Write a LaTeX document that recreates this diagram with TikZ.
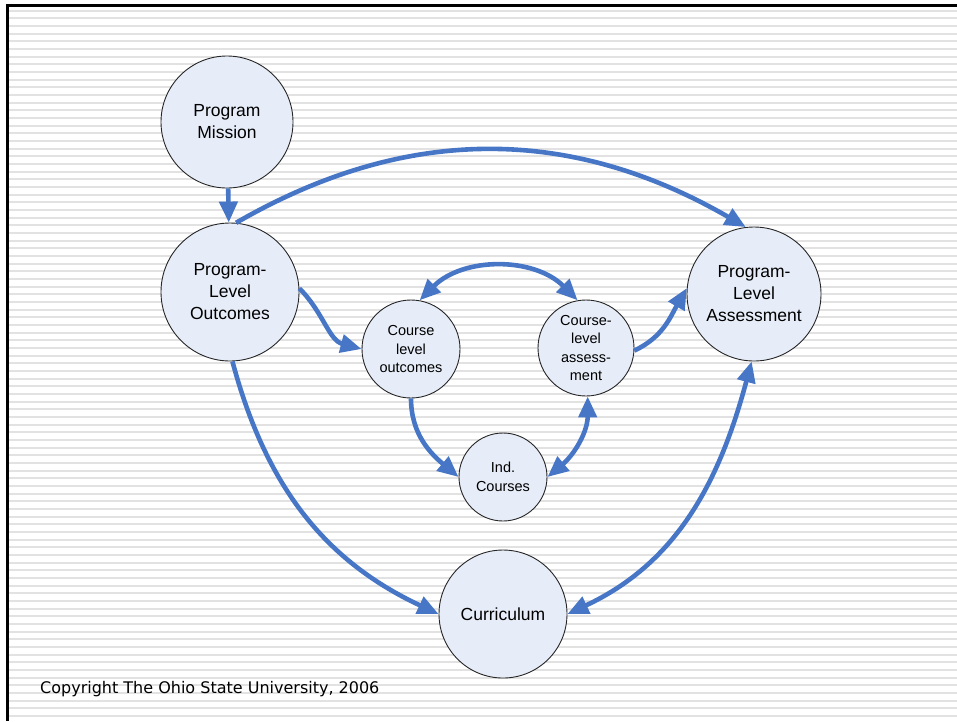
\documentclass[tikz,border=0pt]{standalone}
\usepackage{fontspec}
\setmainfont{Liberation Sans}
\newfontfamily\notefont{DejaVu Sans}
\usetikzlibrary{arrows.meta}

\definecolor{flowblue}{RGB}{70,118,197}
\definecolor{bubble}{RGB}{231,237,248}
\definecolor{stripe}{RGB}{226,226,226}

\tikzset{
    tip/.tip={Triangle[length=21pt, width=18pt]},
    bubble/.style={circle, draw=black!85, line width=0.9pt, fill=bubble,
        inner sep=0pt, align=center, font=\fontsize{17.5}{22}\selectfont},
    smallbubble/.style={bubble, font=\fontsize{14.5}{18.5}\selectfont},
    flow/.style={draw=flowblue, line width=4.6pt, -tip},
    twoway/.style={flow, tip-tip},
}

\begin{document}
\begin{tikzpicture}[x=1pt, y=1pt]
    \useasboundingbox (0,0) rectangle (957,-721);

    % ruled paper
    \foreach \k in {0,...,92}
        \fill[stripe] (8,-9.7-7.667*\k) rectangle ++(949,-2);
    \draw[line width=2.5pt] (957,-5.3) -- (7.7,-5.3) -- (7.7,-721);

    % program level
    \node[bubble, minimum size=132] (mission) at (227,-122) {Program\\Mission};
    \node[bubble, minimum size=138] (outcomes) at (230,-292) {Program-\\Level\\Outcomes};
    \node[bubble, minimum size=134] (assess) at (754,-294) {Program-\\Level\\Assessment};
    \node[bubble, minimum size=128] (curric) at (503,-614) {Curriculum};

    % course level
    \node[smallbubble, minimum size=98] (cout) at (411,-349) {Course\\level\\outcomes};
    \node[smallbubble, minimum size=96] (cass) at (586,-348) {Course-\\level\\assess-\\ment};
    \node[smallbubble, minimum size=88] (ind) at (503,-477) {Ind.\\Courses};

    \draw[flow] (mission) -- (outcomes);
    \draw[flow] (outcomes.85) to[out=30, in=150] (assess.97);
    \draw[flow] (outcomes.3) to[out=-45, in=165] (cout.180);
    \draw[twoway] (cout.80) to[out=45, in=135] (cass.100);
    \draw[flow] (cass.-3) to[out=25, in=-120] (assess.175);
    \draw[flow] (cout.-90) to[out=-90, in=140] (ind.180);
    \draw[twoway] (cass.-88) to[out=-90, in=40] (ind.0);
    \draw[flow] (outcomes.-88) to[out=-75, in=155] (curric.180);
    \draw[twoway] (assess.-92) to[out=-105, in=25] (curric.0);

    \node[anchor=base west, inner sep=0pt, font=\notefont\fontsize{16}{19}\selectfont] (note) at (40,-693)
        {Copyright The Ohio State University, 2006};
\end{tikzpicture}
\end{document}
